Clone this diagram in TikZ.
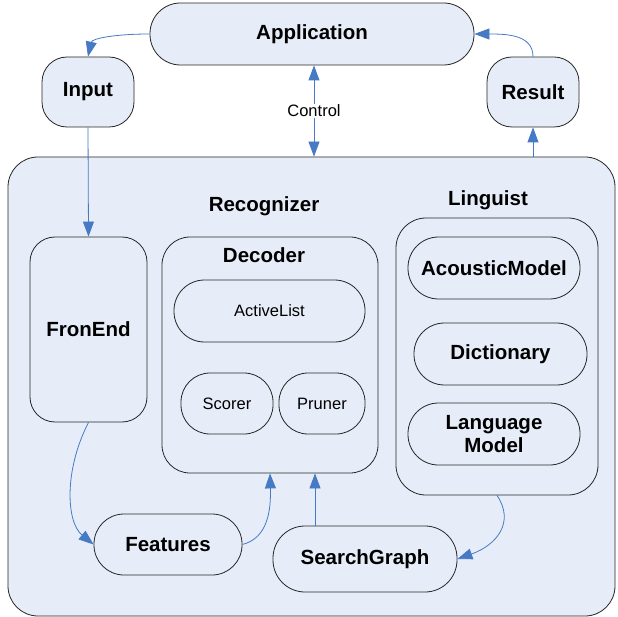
\documentclass[tikz,border=0pt]{standalone}
\usepackage{fontspec}
\setmainfont{Liberation Sans}
\usetikzlibrary{arrows.meta,calc}
\definecolor{boxfill}{RGB}{231,237,248}
\definecolor{arrblue}{RGB}{70,122,196}
\begin{document}
\begin{tikzpicture}[x=1pt,y=-1pt,
  box/.style={draw=black!85, line width=0.8pt, fill=boxfill, inner sep=0pt, align=center,
    font=\fontsize{20.5}{24}\selectfont\bfseries},
  sbox/.style={box, font=\fontsize{16.5}{19}\selectfont},
  lbl/.style={inner sep=1pt, font=\fontsize{20.5}{24}\selectfont\bfseries},
  arr/.style={draw=arrblue, line width=0.8pt, -{Triangle[length=15pt,width=11pt]}}]
\useasboundingbox (0,0) rectangle (618,617);
\fill[white] (0,0) rectangle (618,617);
% top-level
\node[box, minimum width=324, minimum height=62, rounded corners=30.5] (app) at (312,34) {Application};
\node[box, minimum width=92, minimum height=70, rounded corners=25] (input) at (88,92) {Input};
\node[box, minimum width=92, minimum height=70, rounded corners=25] (result) at (533,92) {Result};
\node[box, minimum width=607, minimum height=459, rounded corners=30] (rec) at (311.5,386.5) {};
\node[lbl] (reclbl) at (264,206) {Recognizer};
\node[inner sep=1pt, font=\fontsize{16.5}{19}\selectfont] (ctl) at (314,111) {Control};
% FrontEnd
\node[box, minimum width=117, minimum height=185, rounded corners=25] (fe) at (88.5,329.5) {FronEnd};
% Decoder
\node[box, minimum width=216, minimum height=236, rounded corners=28] (dec) at (270,355) {};
\node[lbl] (declbl) at (264,255) {Decoder};
\node[sbox, minimum width=191, minimum height=62, rounded corners=30.5] (al) at (269.5,311) {ActiveList};
\node[sbox, minimum width=92, minimum height=61, rounded corners=29] (sc) at (227,403.5) {Scorer};
\node[sbox, minimum width=86, minimum height=61, rounded corners=29] (pr) at (322,403.5) {Pruner};
% Linguist
\node[box, minimum width=202, minimum height=277, rounded corners=30] (ling) at (497,356.5) {};
\node[lbl] (linglbl) at (488,200) {Linguist};
\node[box, minimum width=172, minimum height=62, rounded corners=30.5] (am) at (494,268) {AcousticModel};
\node[box, minimum width=173, minimum height=62, rounded corners=30.5] (dict) at (500.5,354) {Dictionary};
\node[box, minimum width=172, minimum height=62, rounded corners=30.5] (lm) at (494,434) {Language\\[-1pt]Model};
% bottom
\node[box, minimum width=148, minimum height=61, rounded corners=30] (feat) at (168,544.5) {Features};
\node[box, minimum width=184, minimum height=66, rounded corners=32] (sg) at (365,559) {SearchGraph};
% connectors
\draw[arr] (app.west) .. controls +(-35,0) and +(4,-18) .. (input.north);
\draw[arr] (result.north) .. controls +(0,-22) and +(32,0) .. (app.east);
\draw[arr] (ctl.north) -- (ctl.north |- app.south);
\draw[arr] (ctl.south) -- (ctl.south |- rec.north);
\draw[arr] (result.south |- rec.north) -- (result.south);
\draw[arr] (input.south) -- (fe.north);
\draw[arr] (fe.south) .. controls (64,470) and (66,522) .. (feat.west);
\draw[arr] (feat.east) .. controls (268,538) and (271,510) .. (dec.south);
\draw[arr] ([xshift=-50pt]sg.north) -- ([xshift=-50pt]sg.north |- dec.south);
\draw[arr] (ling.south) .. controls (515,522) and (497,545) .. (sg.east);
\end{tikzpicture}
\end{document}
